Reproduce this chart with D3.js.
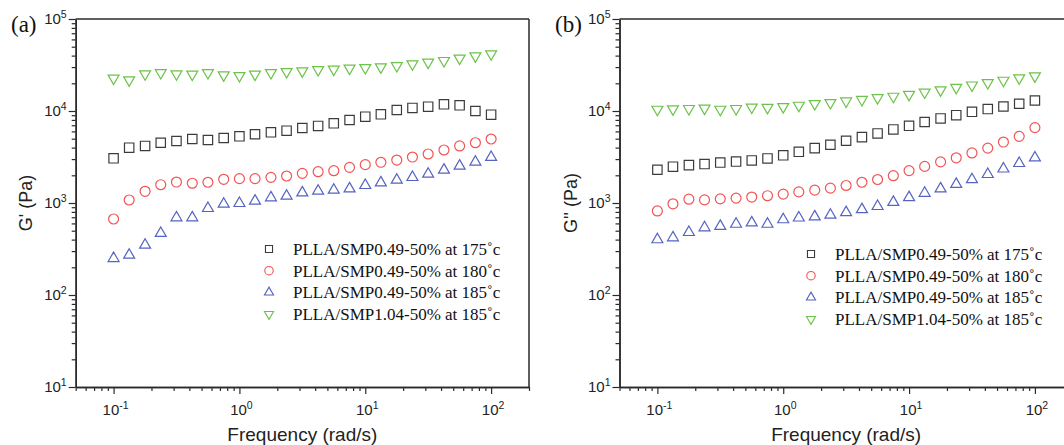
<!DOCTYPE html>
<html><head><meta charset="utf-8">
<script src="https://cdn.jsdelivr.net/npm/d3@7"></script>
<style>body{margin:0;background:#fff}svg{display:block}</style>
</head><body>
<svg id="c" width="1064" height="445"></svg>
<script>
// frequencies (rad/s), 8 points per decade from 0.1 to 100
const freq = [0.1,0.133,0.178,0.237,0.316,0.422,0.562,0.75,1,1.33,1.78,2.37,3.16,4.22,5.62,7.5,10,13.3,17.8,23.7,31.6,42.2,56.2,75,100];

const seriesNames = ["PLLA/SMP0.49-50% at 175˚c","PLLA/SMP0.49-50% at 180˚c","PLLA/SMP0.49-50% at 185˚c","PLLA/SMP1.04-50% at 185˚c"];
const seriesColors = ["#3c3c3c","#f25454","#5563c1","#6cc24a"];
const seriesShapes = ["square","circle","triangle","triangleDown"];

// panel (a) G'
const a175 = [3060,3990,4170,4520,4720,4960,4840,5090,5310,5590,5870,6110,6540,6880,7350,7980,8670,9210,10260,10790,11140,11830,11530,10000,9120];
const a180 = [670,1078,1340,1580,1690,1640,1680,1810,1840,1840,1900,1965,2100,2190,2245,2440,2610,2770,2930,3160,3410,3770,4170,4520,4960];
const a185 = [250,272,349,469,693,693,875,975,991,1052,1143,1191,1295,1350,1384,1430,1556,1663,1778,1900,2066,2285,2525,2790,3140];
const a104 = [22650,21720,25250,26080,25250,25060,26080,24620,24200,25060,26080,26740,27200,28100,28400,29100,29560,30070,31060,32450,33830,35230,37400,39600,41700];

// panel (b) G''
const b175 = [2300,2480,2580,2650,2750,2820,2900,3050,3300,3600,3950,4300,4750,5200,5700,6300,6900,7600,8300,9000,9800,10500,11200,12000,13000];
const b180 = [820,980,1100,1080,1110,1130,1160,1200,1250,1320,1380,1450,1550,1680,1800,1980,2250,2500,2800,3100,3500,3950,4600,5300,6600];
const b185 = [400,420,480,540,560,590,610,590,660,690,710,740,790,850,920,1020,1150,1280,1430,1600,1800,2050,2350,2700,3100];
const b104 = [10400,10500,10600,10700,10400,10600,11000,10900,11100,11500,12000,12300,12800,13300,13900,14400,15100,16000,16900,18000,19100,20300,21500,22800,24000];

const xMajor = [0.1,1,10,100];
const xMajorExp = ["-1","0","1","2"];
const yMajor = [10,100,1000,10000,100000];
const yMajorExp = ["1","2","3","4","5"];

const panels = [
  {left:75.7, tag:"(a)", tagX:11, ylab:"G' (Pa)", ylabX:32, series:[a175,a180,a185,a104], legX:269, legY:249},
  {left:619.5, tag:"(b)", tagX:555, ylab:"G'' (Pa)", ylabX:577, series:[b175,b180,b185,b104], legX:811, legY:254}
];

const svg = d3.select("#c");
const W = 453.3, plotTop = 19, plotBottom = 387;
const axisColor = "#2a2a2a";

function minorTicks(lo, hi){
  const out=[];
  for(let e=Math.floor(Math.log10(lo)); e<=Math.ceil(Math.log10(hi)); e++){
    for(let m=2;m<=9;m++){const v=m*Math.pow(10,e); if(v>=lo*0.999 && v<=hi*1.001) out.push(v);}
  }
  return out;
}

function shapePath(shape, size){
  if(shape==="square") return d3.symbol(d3.symbolSquare, size)();
  if(shape==="circle") return d3.symbol(d3.symbolCircle, size)();
  return d3.symbol(d3.symbolTriangle, size)();
}

panels.forEach(p=>{
  const x = d3.scaleLog().domain([0.05,200]).range([p.left, p.left+W]);
  const y = d3.scaleLog().domain([10,100000]).range([plotBottom, plotTop]);
  const g = svg.append("g");

  // frame top/right
  g.append("line").attr("x1",p.left).attr("x2",p.left+W).attr("y1",plotTop).attr("y2",plotTop)
    .attr("stroke",axisColor).attr("stroke-width",1.5);
  g.append("line").attr("x1",p.left+W).attr("x2",p.left+W).attr("y1",plotTop).attr("y2",plotBottom)
    .attr("stroke",axisColor).attr("stroke-width",1.5);

  // x axis
  const xa = g.append("g").attr("transform",`translate(0,${plotBottom})`);
  xa.call(d3.axisBottom(x).tickValues(xMajor).tickFormat("").tickSize(7).tickSizeOuter(0));
  xa.append("g").call(d3.axisBottom(x).tickValues(minorTicks(0.05,200)).tickFormat("").tickSize(4).tickSizeOuter(0));
  // y axis
  const ya = g.append("g").attr("transform",`translate(${p.left},0)`);
  ya.call(d3.axisLeft(y).tickValues(yMajor).tickFormat("").tickSize(7).tickSizeOuter(0));
  ya.append("g").call(d3.axisLeft(y).tickValues(minorTicks(10,100000)).tickFormat("").tickSize(4).tickSizeOuter(0));
  g.selectAll(".domain").attr("stroke",axisColor).attr("stroke-width",1.5);
  g.selectAll(".tick line").attr("stroke",axisColor).attr("stroke-width",1.2);

  // x tick labels
  xMajor.forEach((v,i)=>{
    const t = g.append("text").attr("x",x(v)+2).attr("y",415).attr("text-anchor","middle")
      .attr("font-family","Liberation Sans, Arial, sans-serif").attr("font-size",15).attr("fill","#222");
    t.append("tspan").text("10");
    t.append("tspan").attr("dy",-6).attr("font-size",10.5).text(xMajorExp[i]);
  });
  // y tick labels
  yMajor.forEach((v,i)=>{
    const t = g.append("text").attr("x",p.left-9).attr("y",y(v)+5).attr("text-anchor","end")
      .attr("font-family","Liberation Sans, Arial, sans-serif").attr("font-size",15).attr("fill","#222");
    t.append("tspan").text("10");
    t.append("tspan").attr("dy",-6).attr("font-size",10.5).text(yMajorExp[i]);
  });

  // axis titles
  g.append("text").attr("x",p.left+W/2).attr("y",441).attr("text-anchor","middle")
    .attr("font-family","Liberation Sans, Arial, sans-serif").attr("font-size",19).attr("fill","#222")
    .text("Frequency (rad/s)");
  g.append("text").attr("transform",`translate(${p.ylabX},${(plotTop+plotBottom)/2}) rotate(-90)`)
    .attr("text-anchor","middle").attr("font-family","Liberation Sans, Arial, sans-serif")
    .attr("font-size",18).attr("fill","#222").text(p.ylab);
  g.append("text").attr("x",p.tagX).attr("y",32).attr("font-family","Liberation Serif, Times New Roman, serif")
    .attr("font-size",23).attr("fill","#111").text(p.tag);

  // data
  p.series.forEach((vals,si)=>{
    const shape = seriesShapes[si];
    const size = shape==="square"?88:(shape==="circle"?78:52);
    const rot = shape==="triangleDown"?180:0;
    g.append("g").selectAll("path").data(vals).join("path")
      .attr("d", shapePath(shape,size))
      .attr("transform",(d,i)=>`translate(${x(freq[i])},${y(d)}) rotate(${rot})`)
      .attr("fill","none").attr("stroke",seriesColors[si]).attr("stroke-width",1.2);
  });

  // legend
  seriesNames.forEach((name,si)=>{
    const yy = p.legY + si*21.7;
    const shape = seriesShapes[si];
    const size = shape==="square"?50:(shape==="circle"?56:36);
    const rot = shape==="triangleDown"?180:0;
    g.append("path").attr("d",shapePath(shape,size))
      .attr("transform",`translate(${p.legX},${yy}) rotate(${rot})`)
      .attr("fill","none").attr("stroke",seriesColors[si]).attr("stroke-width",1.1);
    g.append("text").attr("x",p.legX+24).attr("y",yy+6)
      .attr("font-family","Liberation Serif, Times New Roman, serif").attr("font-size",17).attr("fill","#111")
      .text(name);
  });
});
</script>
</body></html>
